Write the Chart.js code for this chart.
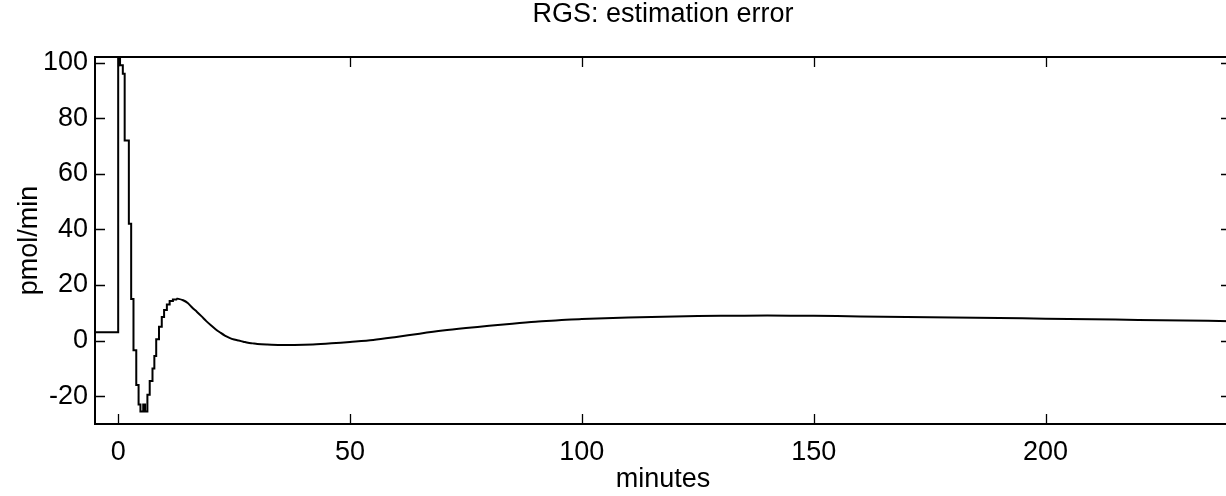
<!DOCTYPE html>
<html>
<head>
<meta charset="utf-8">
<script src="https://cdn.jsdelivr.net/npm/chart.js@4"></script>
<style>
  html, body { margin: 0; padding: 0; background: #fff; overflow: hidden; }
  #wrap { position: relative; width: 1240px; height: 496px; }
</style>
</head>
<body>
<div id="wrap"><canvas id="c" width="1240" height="496"></canvas></div>
<script>
// ---- data ----
const titleText = "RGS: estimation error";
const xLabel = "minutes";
const yLabel = "pmol/min";
const xTicks = [0, 50, 100, 150, 200];
const yTicks = [-20, 0, 20, 40, 60, 80, 100];
const xRange = [-5, 240];
const yRange = [-30, 102];

// sample-and-hold (stepped) early part
const stepTimes  = [-5, 0, 0.4, 1.0, 1.4, 2.3, 2.8, 3.3, 3.9, 4.4, 4.8, 5.4, 5.8, 6.3, 6.8, 7.4, 7.8, 8.2, 8.8, 9.4, 9.9, 10.5, 11.1, 11.8, 12.5];
const stepValues = [3, 110, 99, 96, 72, 42, 15, -3.5, -16, -23, -25.5, -23, -25.5, -19.5, -14.5, -10, -5.5, 0.5, 5, 8.5, 11, 13, 14.2, 14.8, 15];

// smooth later part
const smoothTimes  = [12.5, 13, 14, 15, 16, 17, 18, 19, 20, 21, 22, 23, 24, 25, 26, 27, 28, 29, 30, 32, 35, 38, 42, 46, 50, 55, 60, 65, 70, 75, 80, 85, 90, 95, 100, 110, 120, 130, 140, 150, 160, 170, 180, 190, 200, 210, 220, 230, 240];
const smoothValues = [15, 15.0, 14.5, 13.5, 11.8, 10.3, 8.7, 7.0, 5.5, 4.1, 2.9, 1.8, 1.0, 0.4, 0.0, -0.4, -0.8, -1.0, -1.2, -1.4, -1.6, -1.6, -1.4, -1.0, -0.5, 0.2, 1.3, 2.5, 3.6, 4.5, 5.3, 6.1, 6.8, 7.3, 7.8, 8.3, 8.7, 8.9, 9.0, 8.9, 8.7, 8.5, 8.3, 8.1, 7.9, 7.7, 7.4, 7.2, 7.0];

const FONT = "'Liberation Sans', Arial, Helvetica, sans-serif";
const FS = 27;

const framePlugin = {
  id: 'frame',
  afterDatasetsDraw(chart) {
    const {ctx, chartArea: a, scales: {x, y}} = chart;
    const tl = 10;
    ctx.save();
    ctx.strokeStyle = '#000';
    ctx.lineWidth = 2;
    ctx.strokeRect(a.left, a.top, a.right - a.left, a.bottom - a.top);
    ctx.lineWidth = 1.3;
    ctx.beginPath();
    xTicks.forEach(v => {
      const px = Math.round(x.getPixelForValue(v)) + 0.5;
      ctx.moveTo(px, a.bottom); ctx.lineTo(px, a.bottom - tl);
      ctx.moveTo(px, a.top); ctx.lineTo(px, a.top + tl);
    });
    yTicks.forEach(v => {
      const py = Math.round(y.getPixelForValue(v)) + 0.5;
      ctx.moveTo(a.left, py); ctx.lineTo(a.left + tl, py);
      ctx.moveTo(a.right, py); ctx.lineTo(a.right - tl, py);
    });
    ctx.stroke();
    // title centred over the axes box
    ctx.fillStyle = '#000';
    ctx.font = FS + 'px ' + FONT;
    ctx.textAlign = 'center';
    ctx.textBaseline = 'middle';
    ctx.fillText(titleText, (a.left + a.right) / 2, 15);
    ctx.restore();
  }
};

new Chart(document.getElementById('c'), {
  type: 'line',
  data: {
    datasets: [
      {
        data: stepTimes.map((t, i) => ({x: t, y: stepValues[i]})),
        stepped: true,
        borderColor: '#000',
        borderWidth: 2,
        pointRadius: 0,
        fill: false
      },
      {
        data: smoothTimes.map((t, i) => ({x: t, y: smoothValues[i]})),
        borderColor: '#000',
        borderWidth: 2,
        pointRadius: 0,
        tension: 0.3,
        fill: false
      }
    ]
  },
  options: {
    responsive: false,
    animation: false,
    events: [],
    layout: { padding: { left: 0, right: 9, top: 57, bottom: 0 } },
    plugins: {
      legend: { display: false },
      tooltip: { enabled: false },
      title: { display: false }
    },
    scales: {
      x: {
        type: 'linear',
        min: xRange[0], max: xRange[1],
        afterBuildTicks(s) { s.ticks = xTicks.map(v => ({value: v})); },
        afterFit(s) { s.height = 72; },
        grid: { display: false, drawTicks: false },
        border: { display: false },
        ticks: { color: '#000', padding: 12, font: { family: FONT, size: FS } },
        title: {
          display: true, text: xLabel, color: '#000',
          font: { family: FONT, size: FS },
          padding: { top: 0, bottom: 0 }
        }
      },
      y: {
        type: 'linear',
        min: yRange[0], max: yRange[1],
        afterBuildTicks(s) { s.ticks = yTicks.map(v => ({value: v})); },
        afterFit(s) { s.width = 95; },
        grid: { display: false, drawTicks: false },
        border: { display: false },
        ticks: { color: '#000', padding: 7, font: { family: FONT, size: FS } },
        title: {
          display: true, text: yLabel, color: '#000',
          font: { family: FONT, size: FS },
          padding: { top: 13, bottom: 0 }
        }
      }
    }
  },
  plugins: [framePlugin]
});
</script>
</body>
</html>
